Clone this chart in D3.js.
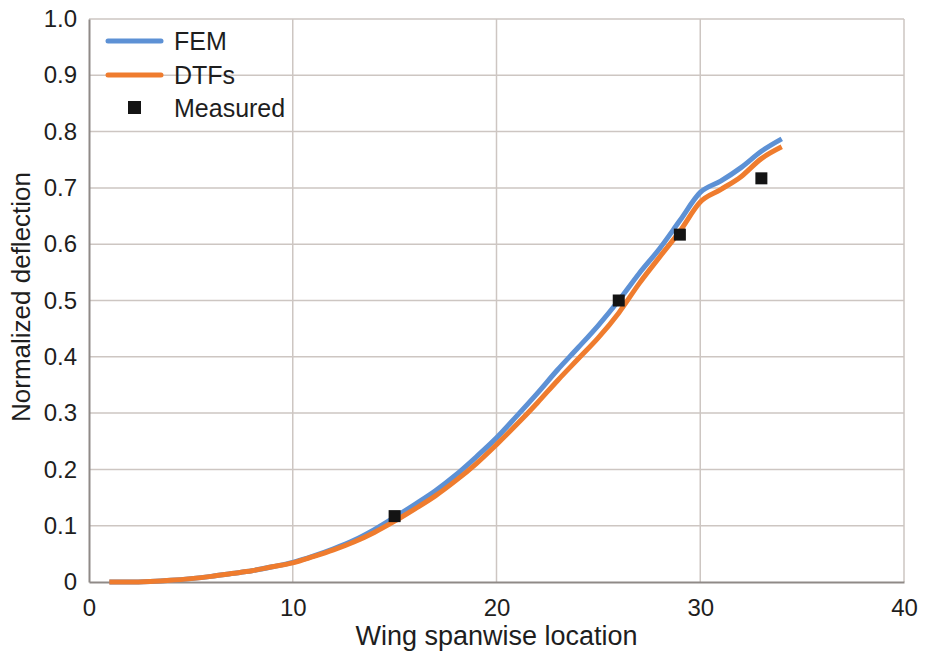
<!DOCTYPE html>
<html>
<head>
<meta charset="utf-8">
<script src="https://cdn.jsdelivr.net/npm/d3@7"></script>
<style>
  body { margin: 0; background: #fff; }
  svg { font-family: "Liberation Sans", Arial, sans-serif; }
</style>
</head>
<body>
<svg id="chart"></svg>
<script>
// span positions and deflections
const spanX = [1, 2, 3, 4, 5, 6, 7, 8, 9, 10, 11, 12, 13, 14, 15, 16, 17, 18, 19, 20,
               21, 22, 23, 24, 25, 26, 27, 28, 29, 30, 31, 32, 33, 34];
const femValues = [0, 0, 0.001, 0.003, 0.006, 0.010, 0.015, 0.020, 0.027, 0.035, 0.046, 0.059,
                   0.074, 0.093, 0.115, 0.138, 0.162, 0.190, 0.222, 0.256, 0.295, 0.335, 0.377,
                   0.416, 0.456, 0.500, 0.548, 0.592, 0.642, 0.692, 0.712, 0.736, 0.765, 0.787];
const dtfValues = [0, 0, 0.001, 0.003, 0.006, 0.010, 0.015, 0.020, 0.027, 0.034, 0.045, 0.057,
                   0.071, 0.088, 0.108, 0.130, 0.153, 0.180, 0.210, 0.244, 0.280, 0.318, 0.358,
                   0.396, 0.434, 0.478, 0.530, 0.577, 0.623, 0.675, 0.697, 0.720, 0.752, 0.773];
const measuredX = [15, 26, 29, 33];
const measuredY = [0.117, 0.5, 0.617, 0.717];
const xTicks = [0, 10, 20, 30, 40];
const yTicks = [0, 0.1, 0.2, 0.3, 0.4, 0.5, 0.6, 0.7, 0.8, 0.9, 1.0];

const width = 925;
const height = 657;
const margin = { top: 19, right: 21, bottom: 75, left: 89 };

const svg = d3.select("#chart")
    .attr("width", width)
    .attr("height", height);

const xScale = d3.scaleLinear()
    .domain([0, 40])
    .range([margin.left, width - margin.right]);

const yScale = d3.scaleLinear()
    .domain([0, 1])
    .range([height - margin.bottom, margin.top]);

const gridColor = "#cdc6c2";
const axisColor = "#8f8a87";
const textColor = "#1e1e1e";

// grid
svg.append("g")
    .selectAll("line")
    .data(yTicks.slice(1))
    .enter().append("line")
    .attr("x1", margin.left)
    .attr("x2", width - margin.right)
    .attr("y1", d => yScale(d))
    .attr("y2", d => yScale(d))
    .style("stroke", gridColor)
    .style("stroke-width", 1.5);

svg.append("g")
    .selectAll("line")
    .data(xTicks.slice(1))
    .enter().append("line")
    .attr("x1", d => xScale(d))
    .attr("x2", d => xScale(d))
    .attr("y1", margin.top)
    .attr("y2", height - margin.bottom)
    .style("stroke", gridColor)
    .style("stroke-width", 1.5);

// axes
const xAxis = svg.append("g")
    .attr("transform", `translate(0, ${height - margin.bottom})`)
    .call(d3.axisBottom(xScale).tickValues(xTicks).tickSize(0).tickPadding(17));

const yAxis = svg.append("g")
    .attr("transform", `translate(${margin.left}, 0)`)
    .call(d3.axisLeft(yScale).tickValues(yTicks).tickSize(0).tickPadding(12)
        .tickFormat(d => d === 0 ? "0" : d3.format(".1f")(d)));

[xAxis, yAxis].forEach(ax => {
    ax.select(".domain").style("stroke", axisColor).style("stroke-width", 2);
    ax.selectAll("text")
        .style("font-size", "24px")
        .style("fill", textColor)
        .style("font-family", "Liberation Sans, Arial, sans-serif");
});

// lines
const line = d3.line()
    .x((d, i) => xScale(spanX[i]))
    .y(d => yScale(d))
    .curve(d3.curveMonotoneX);

svg.append("path")
    .datum(femValues)
    .attr("d", line)
    .style("fill", "none")
    .style("stroke", "#5d91d5")
    .style("stroke-width", 5)
    .style("stroke-linejoin", "round");

svg.append("path")
    .datum(dtfValues)
    .attr("d", line)
    .style("fill", "none")
    .style("stroke", "#ef7c2e")
    .style("stroke-width", 5)
    .style("stroke-linejoin", "round");

// measured
svg.append("g")
    .selectAll("rect")
    .data(measuredY)
    .enter().append("rect")
    .attr("x", (d, i) => xScale(measuredX[i]) - 6)
    .attr("y", d => yScale(d) - 6)
    .attr("width", 12)
    .attr("height", 12)
    .style("fill", "#141414");

// legend
const legend = svg.append("g");
const legendItems = [
    { label: "FEM", color: "#5d91d5", y: 41, type: "line" },
    { label: "DTFs", color: "#ef7c2e", y: 75, type: "line" },
    { label: "Measured", color: "#141414", y: 108, type: "square" }
];
legendItems.forEach(item => {
    if (item.type === "line") {
        legend.append("line")
            .attr("x1", 108).attr("x2", 161)
            .attr("y1", item.y).attr("y2", item.y)
            .style("stroke", item.color)
            .style("stroke-width", 5)
            .style("stroke-linecap", "round");
    } else {
        legend.append("rect")
            .attr("x", 128).attr("y", item.y - 7)
            .attr("width", 13).attr("height", 13)
            .style("fill", item.color);
    }
    legend.append("text")
        .attr("x", 174)
        .attr("y", item.y + 9)
        .style("font-size", "25px")
        .style("fill", textColor)
        .text(item.label);
});

// titles
svg.append("text")
    .attr("x", (margin.left + width - margin.right) / 2)
    .attr("y", 645)
    .attr("text-anchor", "middle")
    .style("font-size", "27px")
    .style("fill", textColor)
    .text("Wing spanwise location");

svg.append("text")
    .attr("transform", `translate(30, 297) rotate(-90)`)
    .attr("text-anchor", "middle")
    .style("font-size", "26px")
    .style("fill", textColor)
    .text("Normalized deflection");
</script>
</body>
</html>
